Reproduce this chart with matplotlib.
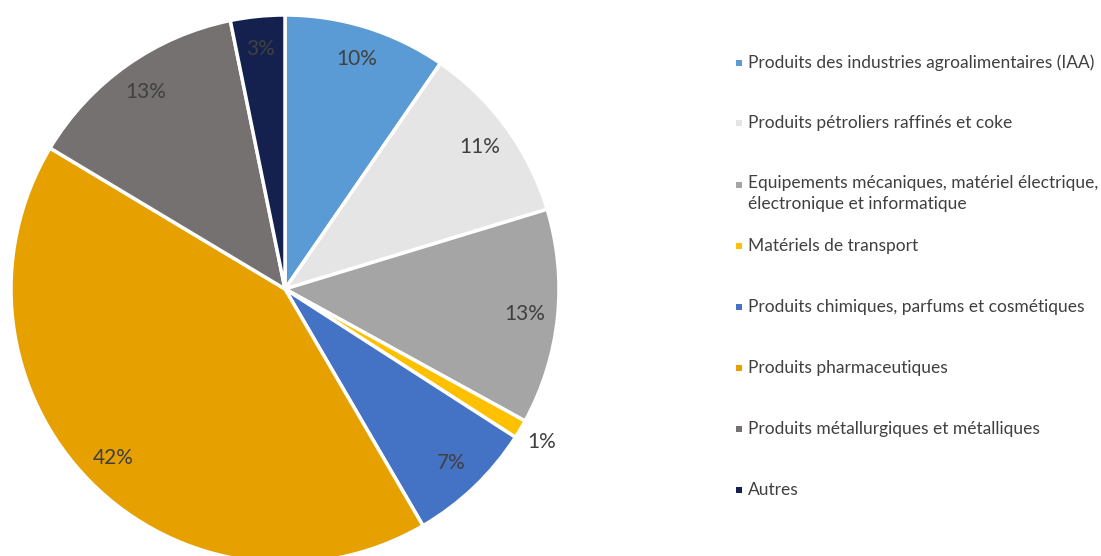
import numpy as np
import matplotlib.pyplot as plt
from matplotlib.patches import Rectangle

plt.rcParams['font.family'] = ['Lato', 'DejaVu Sans']

labels = ['Produits des industries agroalimentaires (IAA)',
          'Produits pétroliers raffinés et coke',
          'Equipements mécaniques, matériel électrique,\nélectronique et informatique',
          'Matériels de transport',
          'Produits chimiques, parfums et cosmétiques',
          'Produits pharmaceutiques',
          'Produits métallurgiques et métalliques',
          'Autres']
# shares
values = [9.6, 10.7, 12.7, 1.1, 7.5, 42.0, 13.2, 3.2]
pct_labels = ['10%', '11%', '13%', '1%', '7%', '42%', '13%', '3%']
colors = ['#5B9BD5', '#E5E5E5', '#A5A5A5', '#FFC000',
          '#4472C4', '#E6A100', '#767171', '#14214F']

W, H = 1101, 556
fig = plt.figure(figsize=(W / 100, H / 100), dpi=100)

# pie axes: centre (285, 289), radius 274 px
cx, cy, r = 285, 289, 274
ax = fig.add_axes([(cx - r) / W, (H - cy - r) / H, 2 * r / W, 2 * r / H])
wedges, texts = ax.pie(values, colors=colors, startangle=90, counterclock=False,
                       wedgeprops=dict(edgecolor='white', linewidth=2.5))
ax.set_xlim(-1, 1)
ax.set_ylim(-1, 1)
ax.set_aspect('equal')

total = sum(values)
start = 90.0
for v, lab in zip(values, pct_labels):
    mid = np.deg2rad(start - v / total * 360 / 2)
    start -= v / total * 360
    d = 1.09 if v < 2 else 0.88
    ax.text(d * np.cos(mid), d * np.sin(mid), lab, ha='center', va='center',
            fontsize=15, color='#404040')

# legend on the right
ys = [63, 123, 185, 246, 307, 368, 429, 490]
for lab, c, y in zip(labels, colors, ys):
    fig.patches.append(Rectangle((736 / W, (H - y - 3) / H), 6 / W, 6 / H,
                                 facecolor=c, edgecolor='none',
                                 transform=fig.transFigure, figure=fig))
    if '\n' in lab:
        fig.text(748 / W, (H - y + 10) / H, lab, ha='left', va='top',
                 fontsize=12.5, color='#404040', linespacing=1.35)
    else:
        fig.text(748 / W, (H - y) / H, lab, ha='left', va='center',
                 fontsize=12.5, color='#404040')

fig.savefig('out.png', dpi=100)
